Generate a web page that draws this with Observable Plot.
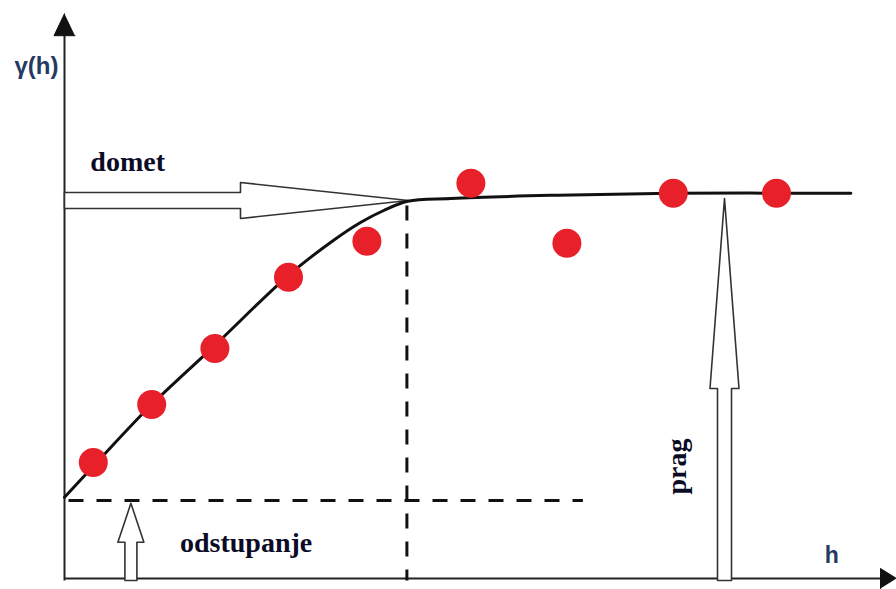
<!DOCTYPE html>
<html>
<head>
<meta charset="utf-8">
<script src="https://cdn.jsdelivr.net/npm/d3@7"></script>
<script src="https://cdn.jsdelivr.net/npm/@observablehq/plot@0.6"></script>
<style>
  html, body { margin: 0; padding: 0; background: #fff; }
  #chart svg { display: block; }
</style>
</head>
<body>
<div id="chart"></div>
<script>
// ---- data (lag h, semivariance gamma) ----
const sampleH     = [0.36, 1.09, 1.88, 2.80, 3.78, 5.08, 6.28, 7.61, 8.90];
const sampleGamma = [2.95, 4.40, 5.80, 7.58, 8.48, 9.93, 8.43, 9.68, 9.68];

const modelH     = [0.00, 0.45, 1.08, 1.88, 2.80, 3.36, 3.70, 3.99, 4.29, 4.83, 6.08, 7.58, 9.83];
const modelGamma = [2.08, 3.05, 4.38, 5.88, 7.63, 8.50, 8.95, 9.25, 9.48, 9.55, 9.63, 9.68, 9.68];

const nugget = 2.0;      // odstupanje
const rangeH = 4.29;     // domet
const sillGamma = 9.55;  // prag
const nuggetLineEnd = 6.48;

// annotation arrows: [label, fromH, fromGamma, toH, toGamma]
const arrowNames  = ["domet", "odstupanje", "prag"];
const arrowFromH  = [0.00, 0.83, 8.25];
const arrowFromG  = [9.50, 0.00, 0.00];
const arrowToH    = [4.30, 0.83, 8.25];
const arrowToG    = [9.50, 1.93, 9.55];

// text labels
const labelText  = ["domet", "odstupanje", "prag"];
const labelH     = [0.79, 2.27, 7.66];
const labelGamma = [10.45, 0.93, 2.85];
const labelRot   = [0, 0, -90];

// ---- scales ----
const W = 896, H = 589;
const xDomain = [-0.8, 10.4];
const yDomain = [-0.225, 14.5];
const pxPerH = W / (xDomain[1] - xDomain[0]);
const pxPerG = H / (yDomain[1] - yDomain[0]);

// hollow block arrow outline built from data endpoints (sizes in px)
const arrowStyle = {
  domet:      {shaft: 8, head: 18, headLen: 168},
  odstupanje: {shaft: 6, head: 13, headLen: 39},
  prag:       {shaft: 7, head: 14.5, headLen: 190}
};
function arrowPolygon(name, x1, y1, x2, y2) {
  const s = arrowStyle[name];
  const X1 = x1 * pxPerH, Y1 = -y1 * pxPerG, X2 = x2 * pxPerH, Y2 = -y2 * pxPerG;
  const dx = X2 - X1, dy = Y2 - Y1, L = Math.hypot(dx, dy);
  const ux = dx / L, uy = dy / L, nx = -uy, ny = ux;
  const bx = X2 - ux * s.headLen, by = Y2 - uy * s.headLen;
  const pts = [
    [X1 + nx * s.shaft, Y1 + ny * s.shaft],
    [bx + nx * s.shaft, by + ny * s.shaft],
    [bx + nx * s.head, by + ny * s.head],
    [X2, Y2],
    [bx - nx * s.head, by - ny * s.head],
    [bx - nx * s.shaft, by - ny * s.shaft],
    [X1 - nx * s.shaft, Y1 - ny * s.shaft]
  ];
  pts.push(pts[0]);
  return pts.map(([px, py]) => ({id: name, h: px / pxPerH, g: -py / pxPerG}));
}
const arrowPts = arrowNames.flatMap((n, i) =>
  arrowPolygon(n, arrowFromH[i], arrowFromG[i], arrowToH[i], arrowToG[i]));

// axis arrowheads (filled triangles), sizes in px
const axisTopG = 14.17, axisRightH = 10.4;
const yHead = [
  {h: 0, g: axisTopG},
  {h: -10.5 / pxPerH, g: axisTopG - 22 / pxPerG},
  {h: 10.5 / pxPerH, g: axisTopG - 22 / pxPerG}
].map(d => ({...d, id: "y"}));
const xHead = [
  {h: axisRightH, g: 0.05},
  {h: axisRightH - 16 / pxPerH, g: 0.05 + 10 / pxPerG},
  {h: axisRightH - 16 / pxPerH, g: 0.05 - 10 / pxPerG}
].map(d => ({...d, id: "x"}));

const samples = sampleH.map((h, i) => ({h, g: sampleGamma[i]}));
const model = modelH.map((h, i) => ({h, g: modelGamma[i]}));
const labels = labelText.map((t, i) => ({t, h: labelH[i], g: labelGamma[i], r: labelRot[i]}));

const ink = "#0b0b26";
const blueInk = "#243a63";

const chart = Plot.plot({
  width: W,
  height: H,
  margin: 0,
  style: {background: "#fff", overflow: "visible"},
  x: {domain: xDomain, axis: null},
  y: {domain: yDomain, axis: null},
  marks: [
    // axes
    Plot.link([{x1: 0, y1: 0, x2: 0, y2: axisTopG - 20 / pxPerG}], {x1: "x1", y1: "y1", x2: "x2", y2: "y2", stroke: "#222", strokeWidth: 2}),
    Plot.link([{x1: 0, y1: 0.05, x2: axisRightH - 14 / pxPerH, y2: 0.05}], {x1: "x1", y1: "y1", x2: "x2", y2: "y2", stroke: "#222", strokeWidth: 2}),
    Plot.line(yHead, {x: "h", y: "g", z: "id", fill: "#111", stroke: "#111", strokeWidth: 1}),
    Plot.line(xHead, {x: "h", y: "g", z: "id", fill: "#111", stroke: "#111", strokeWidth: 1}),
    // dashed guides
    Plot.link([{x1: 0.05, x2: nuggetLineEnd, y: nugget}], {x1: "x1", x2: "x2", y1: "y", y2: "y", stroke: "#111", strokeWidth: 3, strokeDasharray: "15,13"}),
    Plot.link([{x: rangeH - 0.01, y1: 0, y2: 9.45}], {x1: "x", x2: "x", y1: "y1", y2: "y2", stroke: "#111", strokeWidth: 3, strokeDasharray: "15,13", strokeDashoffset: 4}),
    // hollow arrows
    Plot.line(arrowPts, {x: "h", y: "g", z: "id", fill: "#fff", stroke: "#333", strokeWidth: 1.6, curve: "linear"}),
    // model curve
    Plot.line(model, {x: "h", y: "g", stroke: "#111", strokeWidth: 3, curve: "catmull-rom"}),
    // sample points
    Plot.dot(samples, {x: "h", y: "g", r: 14.5, fill: "#e8202a", stroke: "none"}),
    // labels
    Plot.text(labels, {x: "h", y: "g", text: "t", rotate: "r", fontFamily: "Liberation Serif", fontWeight: "bold", fontSize: 28, fill: ink, textAnchor: "middle", lineAnchor: "middle"}),
    Plot.text([{t: "γ(h)", h: -0.35, g: 12.85}], {x: "h", y: "g", text: "t", fontFamily: "Liberation Sans", fontWeight: "bold", fontSize: 24, fill: blueInk, textAnchor: "middle", lineAnchor: "middle"}),
    Plot.text([{t: "h", h: 9.59, g: 0.62}], {x: "h", y: "g", text: "t", fontFamily: "Liberation Sans", fontWeight: "bold", fontSize: 23, fill: blueInk, textAnchor: "middle", lineAnchor: "middle"})
  ]
});
document.getElementById("chart").appendChild(chart);
</script>
</body>
</html>
